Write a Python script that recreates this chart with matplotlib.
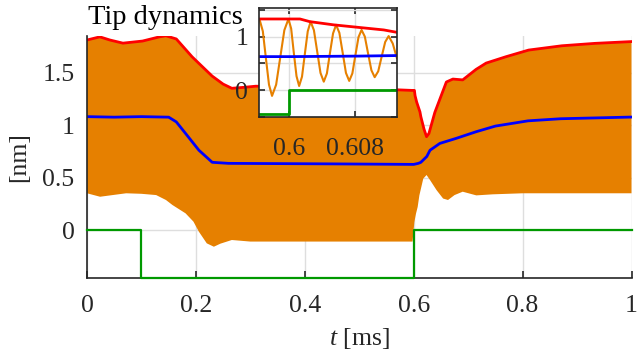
import matplotlib
matplotlib.use('Agg')
import matplotlib.pyplot as plt
import numpy as np

plt.rcParams['font.family'] = 'Liberation Serif'
plt.rcParams['mathtext.fontset'] = 'custom'
plt.rcParams['mathtext.it'] = 'Liberation Serif:italic'
plt.rcParams['mathtext.rm'] = 'Liberation Serif'

####################################################################################################
# data (time in ms, deflection in nm)

# upper envelope (red)
t_up = [0, 0.0236, 0.042, 0.066, 0.102, 0.133, 0.145, 0.164, 0.193, 0.2297, 0.25, 0.266, 0.29,
        0.31, 0.4, 0.5, 0.5964, 0.6013, 0.6025, 0.6054, 0.6086, 0.6115, 0.6131, 0.619, 0.6236,
        0.628, 0.6388, 0.66, 0.672, 0.69, 0.7145, 0.733, 0.769, 0.811, 0.872, 0.933, 1.0]
up = [1.81, 1.84, 1.81, 1.78, 1.80, 1.84, 1.85, 1.82, 1.65, 1.467, 1.39, 1.35, 1.36,
      1.37, 1.36, 1.35, 1.33, 1.33, 1.28, 1.22, 1.17, 1.125, 1.08, 0.96, 0.889,
      0.92, 1.12, 1.41, 1.438, 1.43, 1.53, 1.59, 1.65, 1.714, 1.755, 1.778, 1.795]

# lower envelope of the oscillation
t_lo = [0, 0.024, 0.05, 0.072, 0.1, 0.127, 0.145, 0.157, 0.181, 0.1955, 0.2055, 0.22, 0.233,
        0.245, 0.266, 0.3, 0.45, 0.5979, 0.6012, 0.6042, 0.6073, 0.6104, 0.6176, 0.6236, 0.63,
        0.642, 0.654, 0.663, 0.675, 0.69, 0.715, 0.745, 0.8, 1.0]
lo = [0.35, 0.317, 0.335, 0.35, 0.345, 0.333, 0.286, 0.238, 0.159, 0.08, -0.016, -0.127, -0.159,
      -0.13, -0.095, -0.11, -0.11, -0.11, 0.075, 0.156, 0.22, 0.33, 0.49, 0.524, 0.476,
      0.38, 0.30, 0.286, 0.333, 0.365, 0.33, 0.34, 0.35, 0.35]

# mean (blue)
t_mid = [0, 0.05, 0.1, 0.15, 0.164, 0.181, 0.2055, 0.23, 0.26, 0.45, 0.6, 0.6085, 0.6131,
         0.624, 0.63, 0.648, 0.678, 0.7145, 0.75, 0.81, 0.87, 1.0]
mid = [1.08, 1.075, 1.08, 1.075, 1.03, 0.92, 0.76, 0.645, 0.635, 0.63, 0.625, 0.635, 0.645,
       0.70, 0.76, 0.825, 0.873, 0.936, 0.99, 1.04, 1.06, 1.076]

# excitation signal (green)
t_sig = [0, 0.1, 0.6, 1.0]
sig = [0, -0.457, 0, 0]

# zoomed oscillation around t = 0.6 ms (orange, inset)
t_osc = [0.5964, 0.59678, 0.59715, 0.59753, 0.5979, 0.5984, 0.5989, 0.5994, 0.5999,
         0.60023, 0.60055, 0.60088, 0.6012, 0.60155, 0.6019, 0.60225, 0.6026,
         0.6030, 0.6034, 0.6038, 0.6042, 0.60458, 0.60495, 0.60533, 0.6057,
         0.6061, 0.6065, 0.6069, 0.6073, 0.60768, 0.60805, 0.60843, 0.6088,
         0.6092, 0.6096, 0.6100, 0.6104, 0.61083, 0.61125, 0.61168, 0.6121, 0.6126, 0.6131]
osc = [1.31, 1.10, 0.60, 0.10, -0.11, 0.10, 0.61, 1.12, 1.33,
       1.15, 0.70, 0.26, 0.075, 0.25, 0.68, 1.10, 1.28,
       1.12, 0.72, 0.32, 0.156, 0.31, 0.69, 1.06, 1.22,
       1.07, 0.70, 0.32, 0.17, 0.31, 0.65, 0.99, 1.125,
       1.00, 0.68, 0.37, 0.24, 0.35, 0.625, 0.90, 1.01, 0.87, 0.60]

orange = '#e68000'
green = '#009900'
dark = '#262626'
gridc = '#dedede'

####################################################################################################

fig = plt.figure(figsize=(6.38, 3.56), dpi=100)
ax = fig.add_axes([87/638, 78/356, 544.5/638, 242.2/356])

ax.fill(np.r_[t_up, t_lo[::-1]], np.r_[up, lo[::-1]], color=orange, lw=0)
ax.plot(t_up, up, color='r', lw=2)
ax.plot(t_mid, mid, color='b', lw=2)
ax.plot(t_sig, sig, color=green, lw=1.6, drawstyle='steps-post', clip_on=False, zorder=5)

ax.set_xlim(0, 1)
ax.set_ylim(-0.457, 1.85)
ax.set_xticks([0, 0.2, 0.4, 0.6, 0.8, 1])
ax.set_xticklabels(['0', '0.2', '0.4', '0.6', '0.8', '1'])
ax.set_yticks([0, 0.5, 1, 1.5])
ax.set_yticklabels(['0', '0.5', '1', '1.5'])
ax.grid(color=gridc, lw=1)
ax.set_axisbelow(True)
for s in ['top', 'right']:
    ax.spines[s].set_visible(False)
for s in ['left', 'bottom']:
    ax.spines[s].set_color(dark)
    ax.spines[s].set_linewidth(1.2)
ax.tick_params(direction='in', length=5, width=1.2, colors=dark, labelsize=18.5)
ax.tick_params(axis='x', pad=12)
ax.tick_params(axis='y', pad=9)
ax.set_xlabel(r'$t$ [ms]', fontsize=18.5, color=dark, labelpad=7)
ax.set_ylabel('[nm]', fontsize=18.5, color=dark, labelpad=9)

fig.text(88/638, 1 - 24/356, 'Tip dynamics', fontsize=20.5, va='baseline', ha='left')

####################################################################################################
# inset

axin = fig.add_axes([259.3/638, (356 - 116.7)/356, 137.4/638, 108.4/356])
axin.plot(t_osc, osc, color=orange, lw=1.5)
axin.plot(t_up, up, color='r', lw=2)
axin.plot(t_mid, mid, color='b', lw=2)
axin.plot(t_sig, sig, color=green, lw=2, drawstyle='steps-post')
axin.set_xlim(0.59635, 0.61308)
axin.set_ylim(-0.5, 1.53)
axin.set_xticks([0.6, 0.608])
axin.set_xticklabels(['0.6', '0.608'])
axin.set_yticks([-0.5, 0, 0.5, 1, 1.5])
axin.set_yticklabels(['', '0', '', '1', ''])
axin.grid(color=gridc, lw=1)
axin.set_axisbelow(True)
for s in axin.spines.values():
    s.set_color(dark)
    s.set_linewidth(1.2)
axin.tick_params(direction='in', length=4, width=1.2, colors=dark, labelsize=18.5,
                 top=True, right=True)
axin.tick_params(axis='x', pad=15)
axin.tick_params(axis='y', pad=8)

fig.savefig('out.png', dpi=100)
